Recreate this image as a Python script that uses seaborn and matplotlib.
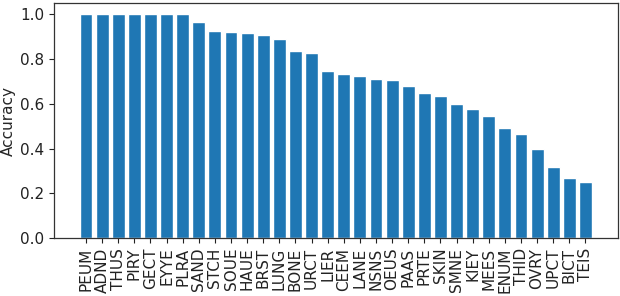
import matplotlib
matplotlib.use("Agg")
import matplotlib.pyplot as plt
import seaborn as sns
import pandas as pd

categories = ["PEUM", "ADND", "THUS", "PIRY", "GECT", "EYYE", "PLRA", "SAND",
              "STCH", "SOUE", "HAUE", "BRST", "LUNG", "BONE", "URCT", "LIER",
              "CEEM", "LANE", "NSNS", "OEUS", "PAAS", "PRTE", "SKIN", "SMNE",
              "KIEY", "MEES", "ENUM", "THID", "OVRY", "UPCT", "BICT", "TEIS"]
accuracy = [1.0, 1.0, 1.0, 1.0, 1.0, 1.0, 1.0, 0.968,
            0.928, 0.921, 0.918, 0.906, 0.889, 0.835, 0.827, 0.747,
            0.733, 0.723, 0.710, 0.708, 0.680, 0.647, 0.634, 0.600,
            0.576, 0.545, 0.491, 0.466, 0.399, 0.317, 0.267, 0.249]
yticks = [0.0, 0.2, 0.4, 0.6, 0.8, 1.0]

df = pd.DataFrame({"category": categories, "Accuracy": accuracy})

sns.set_style("ticks")
plt.rcParams['font.family'] = ['DejaVu Sans']

fig, ax = plt.subplots(figsize=(6.2, 2.96), dpi=100)
fig.subplots_adjust(left=0.087, right=0.996, top=0.989, bottom=0.196)

sns.barplot(data=df, x="category", y="Accuracy", color="#1f77b4",
            saturation=1, width=0.8, ax=ax)
n = len(categories)
m = 0.05 * (n - 1 + 0.8)
ax.set_xlim(-0.4 - m, n - 1 + 0.4 + m)
ax.set_ylim(0, 1.05)
ax.set_yticks(yticks)
ax.set_yticklabels([f"{t:.1f}" for t in yticks])
ax.set_xlabel("")
ax.set_ylabel("Accuracy", fontsize=11, labelpad=3)
ax.tick_params(axis="x", labelrotation=90, labelsize=11, colors="#222222",
               length=3.5)
ax.tick_params(axis="y", labelsize=11, colors="#222222", length=3.5)
for s in ax.spines.values():
    s.set_visible(True)
    s.set_color("#333333")
    s.set_linewidth(0.9)

fig.savefig("out.png", dpi=100)
